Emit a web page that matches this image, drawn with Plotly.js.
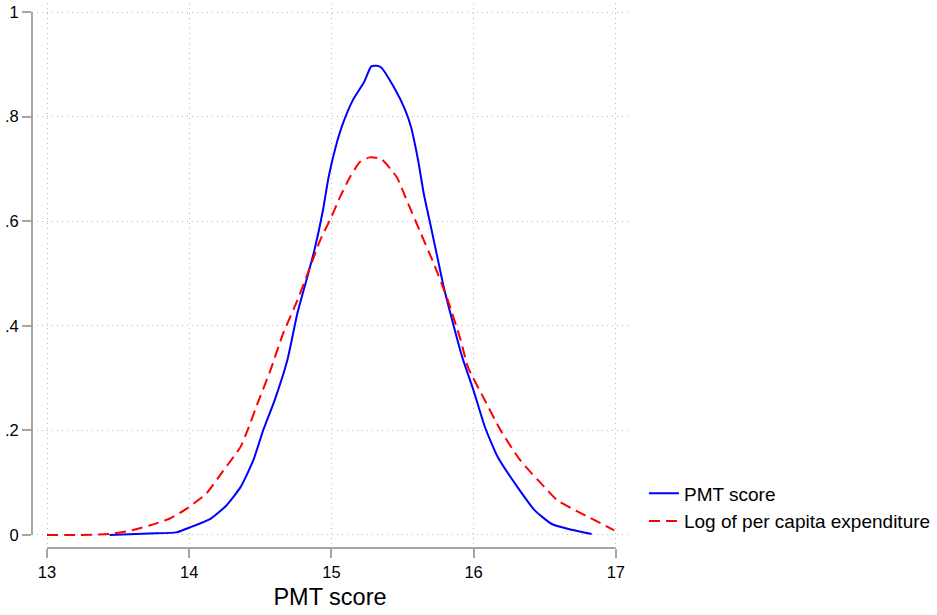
<!DOCTYPE html>
<html>
<head>
<meta charset="utf-8">
<script src="https://cdn.plot.ly/plotly-3.0.1.min.js"></script>
<style>html,body{margin:0;padding:0;background:#fff;}#chart{width:937px;height:615px;}</style>
</head>
<body>
<div id="chart"></div>
<script>
// PMT score density
const pmtX = [13.44, 13.72, 13.91, 14.01, 14.15, 14.26, 14.36, 14.45, 14.52, 14.60, 14.69, 14.76, 14.83, 14.88, 14.94, 14.98, 15.03, 15.08, 15.15, 15.23, 15.28, 15.32, 15.35, 15.44, 15.52, 15.56, 15.61, 15.65, 15.70, 15.75, 15.79, 15.85, 15.92, 16.00, 16.08, 16.17, 16.31, 16.43, 16.55, 16.69, 16.83];
const pmtY = [0.000, 0.003, 0.005, 0.015, 0.031, 0.056, 0.091, 0.142, 0.200, 0.257, 0.334, 0.423, 0.493, 0.544, 0.620, 0.684, 0.742, 0.786, 0.831, 0.866, 0.896, 0.897, 0.894, 0.856, 0.812, 0.780, 0.716, 0.652, 0.589, 0.525, 0.474, 0.410, 0.340, 0.276, 0.206, 0.149, 0.091, 0.047, 0.021, 0.010, 0.002];
// Log of per capita expenditure density
const expX = [13.00, 13.20, 13.44, 13.60, 13.72, 13.86, 13.98, 14.12, 14.24, 14.36, 14.41, 14.48, 14.57, 14.66, 14.76, 14.85, 14.92, 15.00, 15.06, 15.13, 15.20, 15.27, 15.35, 15.46, 15.53, 15.63, 15.72, 15.82, 15.91, 15.96, 16.08, 16.19, 16.33, 16.50, 16.59, 16.76, 16.99];
const expY = [0.000, 0.000, 0.002, 0.009, 0.018, 0.031, 0.050, 0.079, 0.123, 0.168, 0.200, 0.251, 0.314, 0.385, 0.448, 0.512, 0.563, 0.608, 0.646, 0.684, 0.713, 0.722, 0.719, 0.684, 0.640, 0.576, 0.519, 0.448, 0.372, 0.321, 0.257, 0.200, 0.142, 0.091, 0.066, 0.041, 0.009];
const seriesNames = ["PMT score", "Log of per capita expenditure"];
const xTicks = [13, 14, 15, 16, 17];
const yTicks = [0, 0.2, 0.4, 0.6, 0.8, 1];
const yTickText = ["0", ".2", ".4", ".6", ".8", "1"];

const axisGray = "#a6a6a6";
const gridGray = "#b8b8b8";
const font = "Liberation Sans, Arial, Helvetica, sans-serif";

const traces = [
  {x: pmtX, y: pmtY, name: seriesNames[0], type: "scatter", mode: "lines",
   line: {color: "#0000ff", width: 2, shape: "spline", smoothing: 0.5}},
  {x: expX, y: expY, name: seriesNames[1], type: "scatter", mode: "lines",
   line: {color: "#ff0000", width: 2, dash: "11px,6px", shape: "spline", smoothing: 0.5}}
];

const layout = {
  width: 937, height: 615,
  margin: {l: 32, r: 309, t: 3, b: 67, autoexpand: false},
  paper_bgcolor: "#fff", plot_bgcolor: "#fff",
  font: {family: font, color: "#000", size: 16.5},
  showlegend: true,
  legend: {x: 1.0268, y: 0.135, xanchor: "left", yanchor: "top", font: {size: 19, family: font},
           bgcolor: "rgba(0,0,0,0)", itemwidth: 30, tracegroupgap: 0},
  xaxis: {
    range: [12.8945, 17.0858], tickvals: xTicks, ticktext: xTicks.map(String),
    showline: false, zeroline: false, ticks: "outside", ticklen: 9, tickwidth: 2, tickcolor: axisGray,
    showgrid: true, gridcolor: gridGray, gridwidth: 1, griddash: "1px,4px",
    tickfont: {size: 16.5}, title: {text: "PMT score", font: {size: 23.5}, standoff: 8}
  },
  yaxis: {
    range: [-0.0249, 1.0172], tickvals: yTicks, ticktext: yTickText,
    showline: false, zeroline: false, ticks: "outside", ticklen: 9, tickwidth: 2, tickcolor: axisGray,
    showgrid: true, gridcolor: gridGray, gridwidth: 1, griddash: "1px,4px",
    tickfont: {size: 16.5}, ticklabelstandoff: 0
  },
  shapes: [
    {type: "line", xref: "paper", yref: "y", x0: 0, x1: 0, y0: 0, y1: 1, line: {color: axisGray, width: 2}},
    {type: "line", xref: "x", yref: "paper", x0: 13, x1: 17, y0: 0, y1: 0, line: {color: axisGray, width: 2}}
  ]
};

Plotly.newPlot("chart", traces, layout, {displayModeBar: false, staticPlot: true});
</script>
</body>
</html>
